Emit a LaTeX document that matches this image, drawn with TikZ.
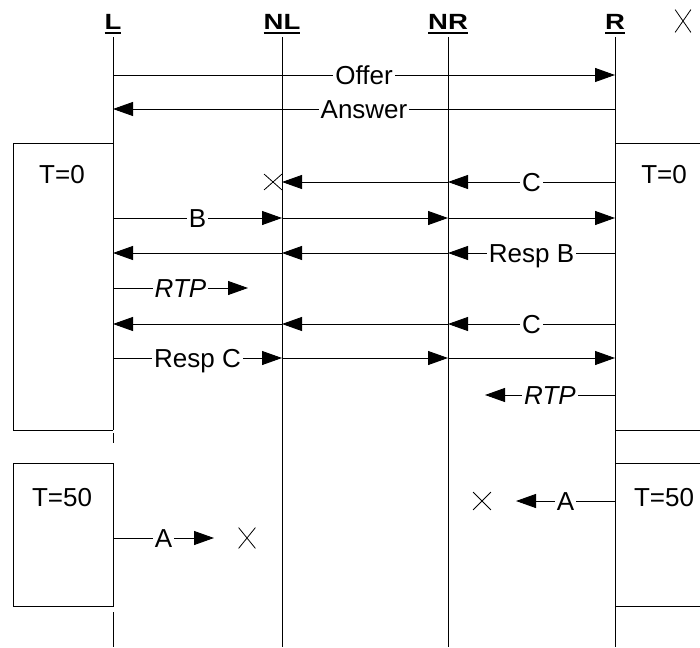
\documentclass[tikz,border=0pt]{standalone}
\usepackage{graphicx}
\usepackage{fontspec}
\setmainfont{Liberation Sans}
\usetikzlibrary{arrows.meta,shapes.misc}
\newcommand{\msgfont}{\fontsize{26}{30}\selectfont}
\newcommand{\ulhead}[1]{\vtop{\hbox{#1}\kern2pt\hrule height 2pt}}

\begin{document}
\begin{tikzpicture}[
			x=1pt, y=-1pt,
			head/.style={font=\fontsize{22}{24}\selectfont\bfseries, inner sep=0pt, anchor=base},
			life/.style={draw=black, line width=0.9pt},
			msg/.style={draw=black, line width=0.9pt, -{Triangle[length=20pt,width=14pt]}},
			lbl/.style={fill=white, font=\msgfont, inner xsep=2pt, inner ysep=0pt, text height=18.5pt, text depth=0pt},
			rtp/.style={lbl, font=\msgfont\itshape},
			tbox/.style={font=\msgfont, inner sep=0pt, text height=18.5pt, text depth=0pt},
			xmark/.style={cross out, draw=black, line width=0.8pt, inner sep=0pt}
			]
			\useasboundingbox (0,0) rectangle (700,647);
			
			% Lifeline heads and the points where the rows meet them
			\foreach \n/\x in {L/113, NL/282, NR/448, R/615} {
				\node[head] (\n) at (\x,30) {\scalebox{1.25}[1]{\ulhead{\n}}};
				\foreach \r/\y in {top/37, off/75, ans/109, tb/143, c1/182, b/218, rb/253, rtp1/288, c2/324, rc/358, rtp2/395, bb/430, tc/463, a1/501, a2/538, bc/606, bot/647}
					\coordinate (\n-\r) at (\x,\y);
			}
			\node[xmark, minimum width=15pt, minimum height=22pt] (xtop) at (683,21) {};
			
			% Lifelines
			\draw[life] (L-top) -- (L-bb) (L-bb) ++(0,3) -- ++(0,10) (L-bc) ++(0,6) -- (L-bot);
			\foreach \n in {NL, NR, R}
				\draw[life] (\n-top) -- (\n-bot);
			
			% Timer boxes
			\draw[life] (L-tb) -- ++(-100,0) |- (L-bb);
			\draw[life] (R-tb) -- ++(85,0) (R-bb) -- ++(85,0);
			\draw[life] (L-tc) -- ++(-100,0) |- (L-bc) -- (L-tc);
			\draw[life] (R-tc) -- ++(85,0) (R-bc) -- ++(85,0);
			\node[tbox] (t0l) at (62,174) {T=0};
			\node[tbox] (t0r) at (664,174) {T=0};
			\node[tbox] (t50l) at (62,497) {T=50};
			\node[tbox] (t50r) at (664,497) {T=50};
			
			% Offer / Answer
			\draw[msg] (L-off) -- node[lbl] (offer) {Offer} (R-off);
			\draw[msg] (R-ans) -- node[lbl] (answer) {Answer} (L-ans);
			
			% C, lost at NL
			\draw[msg] (R-c1) -- node[lbl] (c1) {C} (NR-c1);
			\draw[msg] (NR-c1) -- (NL-c1);
			\node[xmark, minimum width=17pt, minimum height=15pt] (xc) at (273,182) {};
			
			% B and Resp B
			\draw[msg] (L-b) -- node[lbl] (b) {B} (NL-b);
			\draw[msg] (NL-b) -- (NR-b);
			\draw[msg] (NR-b) -- (R-b);
			\draw[msg] (R-rb) -- node[lbl] (rb) {Resp B} (NR-rb);
			\draw[msg] (NR-rb) -- (NL-rb);
			\draw[msg] (NL-rb) -- (L-rb);
			
			% RTP from L
			\coordinate (rtpl) at (248,288);
			\draw[msg] (L-rtp1) -- node[rtp] (rtp1) {RTP} (rtpl);
			
			% C and Resp C
			\draw[msg] (R-c2) -- node[lbl] (c2) {C} (NR-c2);
			\draw[msg] (NR-c2) -- (NL-c2);
			\draw[msg] (NL-c2) -- (L-c2);
			\draw[msg] (L-rc) -- node[lbl] (rc) {Resp C} (NL-rc);
			\draw[msg] (NL-rc) -- (NR-rc);
			\draw[msg] (NR-rc) -- (R-rc);
			
			% RTP from R
			\coordinate (rtpr) at (485,395);
			\draw[msg] (R-rtp2) -- node[rtp] (rtp2) {RTP} (rtpr);
			
			% A at T=50, both lost
			\coordinate (ar) at (516,501);
			\draw[msg] (R-a1) -- node[lbl] (a1) {A} (ar);
			\node[xmark, minimum width=17pt, minimum height=17pt] (xar) at (482,501) {};
			\coordinate (al) at (214,538);
			\draw[msg] (L-a2) -- node[lbl] (a2) {A} (al);
			\node[xmark, minimum width=16pt, minimum height=20pt] (xal) at (247,538) {};
			
		\end{tikzpicture}
\end{document}
